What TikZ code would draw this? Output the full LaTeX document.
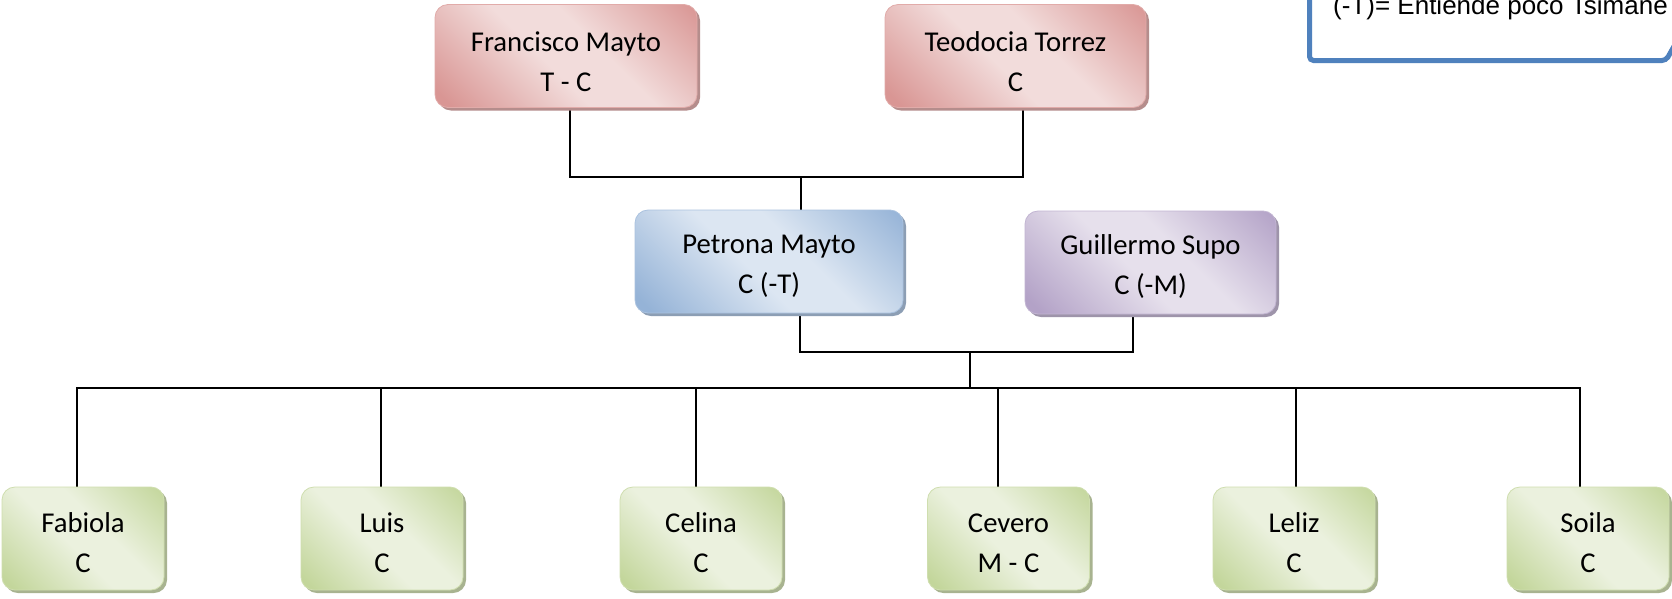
\documentclass[tikz,border=0pt]{standalone}
\usepackage{fontspec}
\setmainfont{Carlito}
\newfontfamily\arialf{Liberation Sans}
\usetikzlibrary{shadows}
\definecolor{rdk}{HTML}{D99694}\definecolor{rlt}{HTML}{F2DCDB}
\definecolor{bdk}{HTML}{95B3D7}\definecolor{blt}{HTML}{DCE6F2}
\definecolor{pdk}{HTML}{B3A2C7}\definecolor{plt}{HTML}{E6E0EC}
\definecolor{gdk}{HTML}{C3D69B}\definecolor{glt}{HTML}{EBF1DE}
\definecolor{noteblue}{HTML}{4F81BD}
\pgfdeclareverticalshading{redsh}{100bp}{color(0bp)=(rdk); color(18bp)=(rdk); color(45bp)=(rlt); color(58bp)=(rlt); color(85bp)=(rdk); color(100bp)=(rdk)}
\pgfdeclareverticalshading{bluesh}{100bp}{color(0bp)=(bdk); color(18bp)=(bdk); color(45bp)=(blt); color(58bp)=(blt); color(85bp)=(bdk); color(100bp)=(bdk)}
\pgfdeclareverticalshading{purpsh}{100bp}{color(0bp)=(pdk); color(18bp)=(pdk); color(45bp)=(plt); color(58bp)=(plt); color(85bp)=(pdk); color(100bp)=(pdk)}
\pgfdeclareverticalshading{greensh}{100bp}{color(0bp)=(gdk); color(18bp)=(gdk); color(45bp)=(glt); color(58bp)=(glt); color(85bp)=(gdk); color(100bp)=(gdk)}
\pgfdeclarelayer{background}
\pgfsetlayers{background,main}
\tikzset{
  famnode/.style={rectangle, rounded corners=13pt, minimum height=103pt, inner sep=0pt,
    align=center, font=\fontsize{28.7}{40}\selectfont, shade, shading angle=-45, line width=0.8pt,
    text depth=0pt},
  redbox/.style={famnode, shading=redsh, draw=rdk!80!white, minimum width=262pt, text height=70pt,
    general shadow={fill=rdk!60!gray, shadow xshift=3pt, shadow yshift=-3pt}},
  bluebox/.style={famnode, shading=bluesh, draw=bdk!80!white, text height=64pt,
    general shadow={fill=bdk!60!gray, shadow xshift=3pt, shadow yshift=-3pt}},
  purpbox/.style={famnode, shading=purpsh, draw=pdk!80!white, text height=64pt,
    general shadow={fill=pdk!60!gray, shadow xshift=3pt, shadow yshift=-3pt}},
  greenbox/.style={famnode, shading=greensh, draw=gdk!80!white, minimum width=162pt, text height=68pt,
    general shadow={fill=gdk!60!gray, shadow xshift=3pt, shadow yshift=-3pt}},
  conn/.style={line width=1.8pt, black},
  notebox/.style={line width=5pt, draw=noteblue, rounded corners=4pt}
}
\begin{document}
\begin{tikzpicture}[x=1pt, y=-1pt]
\useasboundingbox (0,0) rectangle (1672,598);
\clip (0,0) rectangle (1672,598);

% note box (partly outside the page)
\draw[notebox] (1309.5,-30) -- (1309.5,60.5) -- (1666,60.5) -- (1686,25);
\node[anchor=base west, inner sep=0pt, font=\arialf\fontsize{26}{30}\selectfont] (note) at (1333,14) {(-T)= Entiende poco Tsimane};

% parents
\node[redbox] (fm) at (566,56) {Francisco Mayto\\T - C};
\node[redbox, minimum width=261pt] (tt) at (1015.5,56) {Teodocia Torrez\\C};

% couple
\node[bluebox, minimum width=268pt] (pm) at (769,261.5) {Petrona Mayto\\C (-T)};
\node[purpbox, minimum width=251pt] (gs) at (1150.5,262.5) {Guillermo Supo\\C (-M)};

% children
\node[greenbox] (c1) at (83,538.5) {Fabiola\\C};
\node[greenbox] (c2) at (382,538.5) {Luis\\C};
\node[greenbox] (c3) at (701,538.5) {Celina\\C};
\node[greenbox] (c4) at (1008.5,538.5) {Cevero\\M - C};
\node[greenbox] (c5) at (1294,538.5) {Leliz\\C};
\node[greenbox] (c6) at (1588,538.5) {Soila\\C};

\coordinate (j1) at (801,177);
\coordinate (j2) at (970,352);
\coordinate (j3) at (970,388);

\begin{pgfonlayer}{background}
\fill[white] (0,0) rectangle (1672,598);
\draw[conn] ([xshift=4pt]fm.south) |- (j1) -| ([xshift=7.5pt]tt.south);
\draw[conn] (j1) -- (j1 |- pm.north);
\draw[conn] ([xshift=31pt]pm.south) |- (j2) -| ([xshift=-17.5pt]gs.south);
\draw[conn] (j2) -- (j3);
\draw[conn] ([xshift=-6pt]c1.north) |- (j3);
\draw[conn] ([xshift=-1pt]c2.north) |- (j3);
\draw[conn] ([xshift=-5pt]c3.north) |- (j3);
\draw[conn] ([xshift=-10.5pt]c4.north) |- (j3);
\draw[conn] ([xshift=2pt]c5.north) |- (j3);
\draw[conn] ([xshift=-8pt]c6.north) |- (j3);
\end{pgfonlayer}
\end{tikzpicture}
\end{document}
